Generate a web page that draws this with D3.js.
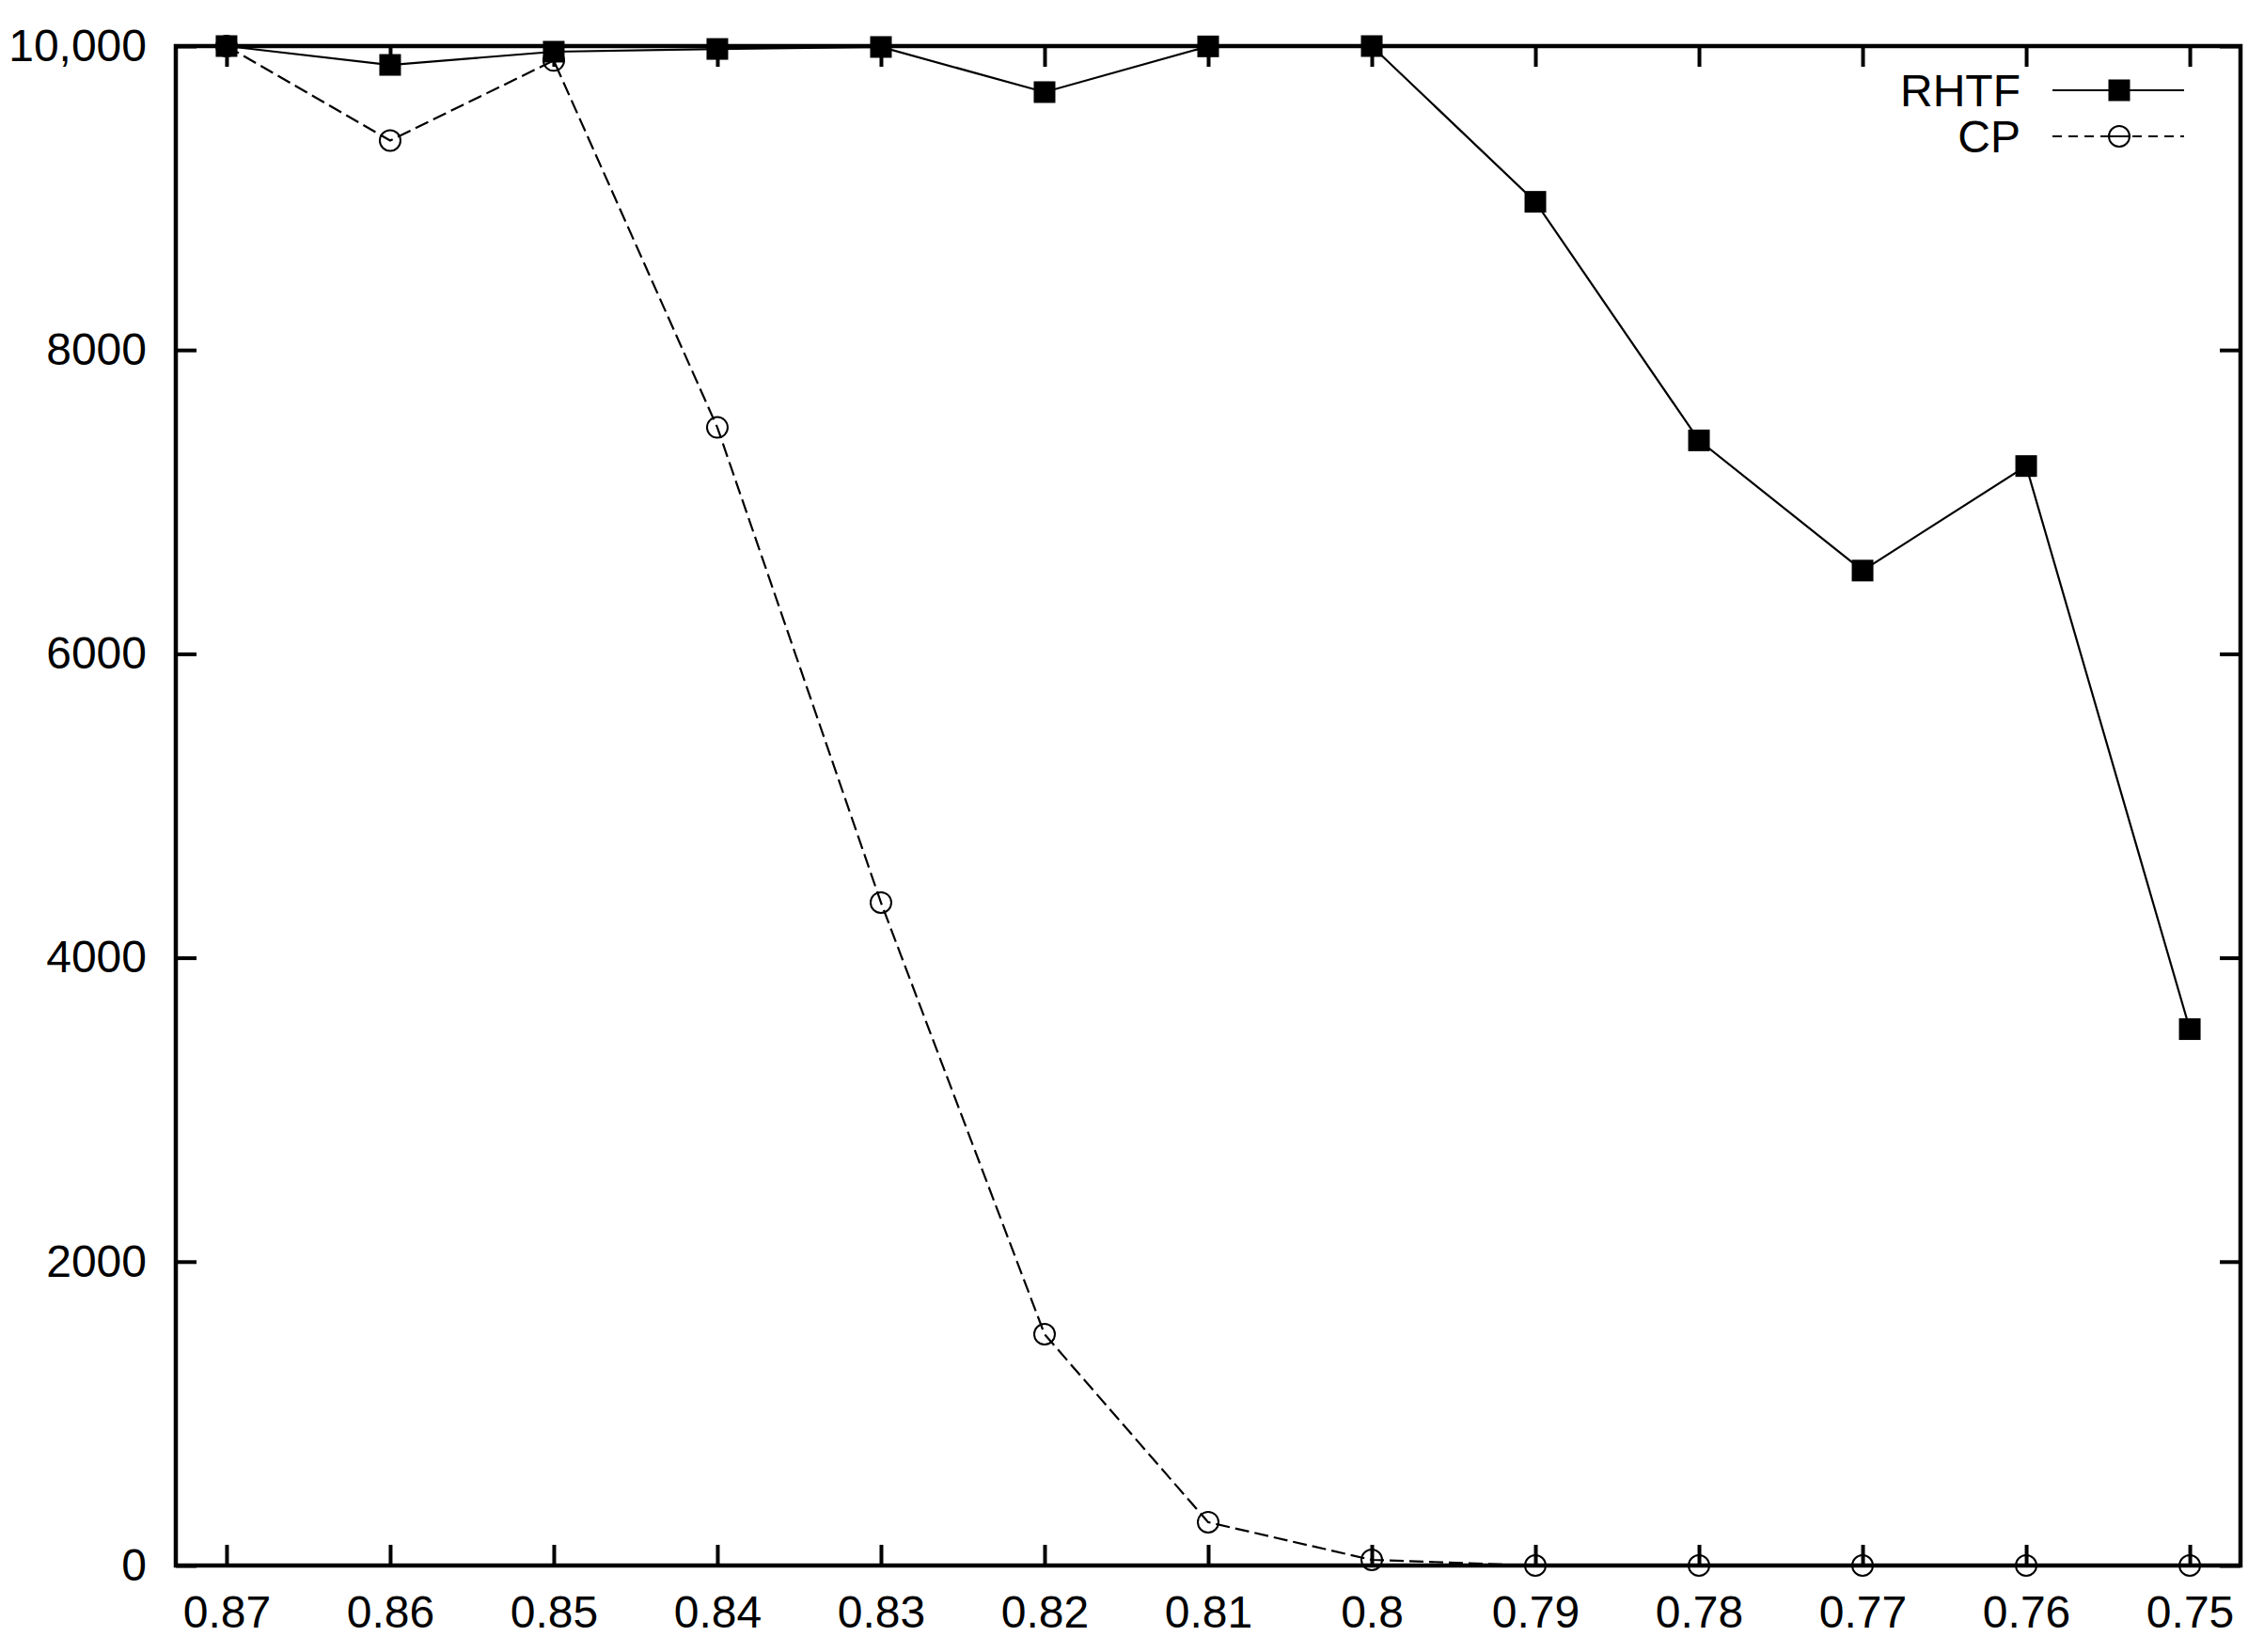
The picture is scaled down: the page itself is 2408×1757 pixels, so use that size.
<!DOCTYPE html>
<meta charset="utf-8">
<style>
  body { margin: 0; background: #fff; }
  text { font-family: "Liberation Sans", Arial, sans-serif; font-size: 48px; fill: #000; }
  .axis path.domain { display: none; }
  .axis line { stroke: #000; stroke-width: 4; }
</style>
<script src="https://d3js.org/d3.v7.min.js"></script>
<body>
<script>

const width = 2408;
const height = 1757;
const plot = {left: 187, right: 2383, top: 49, bottom: 1665};

// threshold values on the x axis (descending, as in the figure)
const thresholds = ["0.87", "0.86", "0.85", "0.84", "0.83", "0.82", "0.81",
                    "0.8", "0.79", "0.78", "0.77", "0.76", "0.75"];
const rhtf = [10000, 9876, 9963, 9981, 9994, 9697, 9998, 10000, 8975, 7405, 6548, 7236, 3530];
const cp   = [10000, 9378, 9905, 7490, 4363, 1522, 285, 37, 0, 0, 0, 0, 0];
const yTicks = [0, 2000, 4000, 6000, 8000, 10000];
const seriesNames = ["RHTF", "CP"];

const svg = d3.select("body")
              .append("svg")
              .attr("width", width)
              .attr("height", height);

const x = d3.scalePoint()
            .domain(thresholds)
            .range([plot.left, plot.right])
            .padding(0.31);

const y = d3.scaleLinear()
            .domain([0, 10000])
            .range([plot.bottom, plot.top]);

const tickLen = 22;
const dash = "15,6";
const yFormat = d => d === 10000 ? "10,000" : String(d);

svg.append("g")
   .attr("class", "axis")
   .attr("transform", `translate(0,${plot.bottom})`)
   .call(d3.axisBottom(x).tickSizeInner(-tickLen).tickSizeOuter(0).tickPadding(32));

svg.append("g")
   .attr("class", "axis")
   .attr("transform", `translate(0,${plot.top})`)
   .call(d3.axisTop(x).tickSizeInner(-tickLen).tickSizeOuter(0).tickFormat(""));

svg.append("g")
   .attr("class", "axis")
   .attr("transform", `translate(${plot.left},0)`)
   .call(d3.axisLeft(y).tickValues(yTicks).tickSizeInner(-tickLen).tickSizeOuter(0)
           .tickPadding(31).tickFormat(yFormat));

svg.append("g")
   .attr("class", "axis")
   .attr("transform", `translate(${plot.right},0)`)
   .call(d3.axisRight(y).tickValues(yTicks).tickSizeInner(-tickLen).tickSizeOuter(0).tickFormat(""));

svg.selectAll(".axis text")
   .attr("font-size", 48)
   .attr("font-family", "Liberation Sans, Arial, sans-serif");

// frame
svg.append("rect")
   .attr("x", plot.left)
   .attr("y", plot.top)
   .attr("width", plot.right - plot.left)
   .attr("height", plot.bottom - plot.top)
   .attr("fill", "none")
   .attr("stroke", "#000")
   .attr("stroke-width", 4.5);

const line = d3.line()
               .x((d, i) => x(thresholds[i]))
               .y(d => y(d));

// CP: dashed line with hollow circles
svg.append("path")
   .attr("d", line(cp))
   .attr("fill", "none")
   .attr("stroke", "#000")
   .attr("stroke-width", 2.2)
   .attr("stroke-dasharray", dash);

svg.append("g")
   .selectAll("circle")
   .data(cp)
   .enter().append("circle")
   .attr("cx", (d, i) => x(thresholds[i]))
   .attr("cy", d => y(d))
   .attr("r", 11)
   .attr("fill", "none")
   .attr("stroke", "#000")
   .attr("stroke-width", 2);

// RHTF: solid line with filled squares
svg.append("path")
   .attr("d", line(rhtf))
   .attr("fill", "none")
   .attr("stroke", "#000")
   .attr("stroke-width", 2.2);

const sq = 23;
svg.append("g")
   .selectAll("rect")
   .data(rhtf)
   .enter().append("rect")
   .attr("x", (d, i) => x(thresholds[i]) - sq / 2)
   .attr("y", d => y(d) - sq / 2)
   .attr("width", sq)
   .attr("height", sq)
   .attr("fill", "#000");

// legend
const legend = svg.append("g");
const legendRows = [96, 145];
seriesNames.forEach((name, i) => {
  const ly = legendRows[i];
  legend.append("text")
        .attr("x", 2149)
        .attr("y", ly + 17)
        .attr("text-anchor", "end")
        .attr("font-size", 48)
        .text(name);
  legend.append("line")
        .attr("x1", 2183).attr("x2", 2323)
        .attr("y1", ly).attr("y2", ly)
        .attr("stroke", "#000")
        .attr("stroke-width", 2.2)
        .attr("stroke-dasharray", i === 1 ? "10,7" : null);
  if (i === 0) {
    legend.append("rect")
          .attr("x", 2254 - sq / 2).attr("y", ly - sq / 2)
          .attr("width", sq).attr("height", sq)
          .attr("fill", "#000");
  } else {
    legend.append("circle")
          .attr("cx", 2254).attr("cy", ly).attr("r", 11)
          .attr("fill", "#fff")
          .attr("stroke", "#000")
          .attr("stroke-width", 2);
    legend.append("line")
          .attr("x1", 2243).attr("x2", 2265)
          .attr("y1", ly).attr("y2", ly)
          .attr("stroke", "#000")
          .attr("stroke-width", 2);
  }
});
</script>
</body>
